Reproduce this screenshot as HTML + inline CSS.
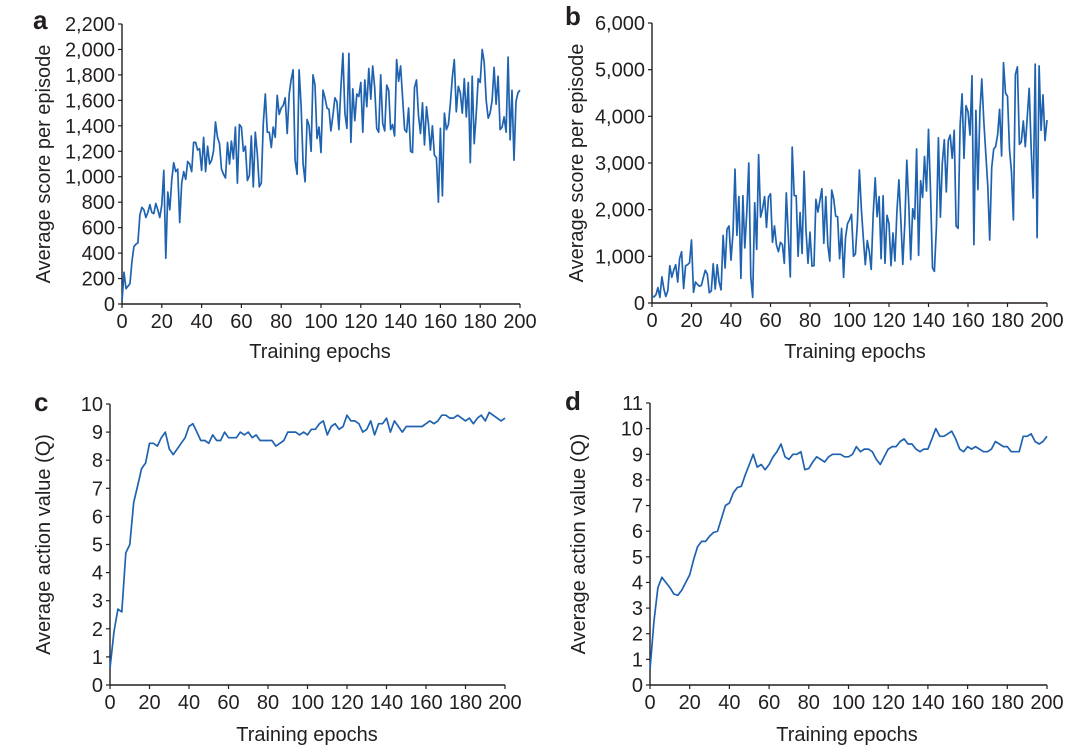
<!DOCTYPE html>
<html><head><meta charset="utf-8"><style>
html,body{margin:0;padding:0;background:#fff;}
svg{display:block;font-family:"Liberation Sans",Arial,sans-serif;}
</style></head><body>
<svg id="fig" width="1081" height="746" viewBox="0 0 1081 746"></svg>
<script>
const epochsStep1 = Array.from({length:201},(_,i)=>i);
const epochsStep2 = Array.from({length:101},(_,i)=>i*2);
const scoreA = [20,250,120,140,160,330,450,470,480,700,
760,740,680,720,780,720,710,790,740,680,
780,1050,360,880,740,980,1110,1040,1060,640,
950,1040,980,1120,1100,1040,1270,1270,1210,1220,
1050,1310,1040,1240,1100,1130,1200,1430,1310,1260,
1060,1020,990,1270,1100,1280,1140,1390,950,1410,
1390,1200,1240,970,1010,1320,920,1350,1180,920,
950,1420,1650,1350,1350,1230,1390,1310,1640,1490,
1540,1560,1620,1340,1650,1760,1840,1130,1020,1840,
1560,1100,960,1450,1400,1200,1800,1720,1300,1390,
1190,1680,1620,1540,1530,1360,1480,1620,1590,1370,
1700,1970,1500,1380,1970,1270,1690,1440,1650,1630,
1740,1350,1760,1550,1850,1610,1870,1700,1380,1350,
1800,1420,1360,1720,1680,1370,1410,1320,1920,1750,
1870,1620,1370,1350,1540,1200,1190,1700,1760,1480,
1340,1580,1250,1550,1410,1210,1400,1170,1150,800,
1380,850,1500,1370,1410,1580,1780,1920,1510,1710,
1660,1500,1770,1470,1740,1110,1790,1260,1490,1770,
1740,2000,1900,1600,1460,1500,1600,1860,1570,1790,
1370,1390,1470,1350,1940,1290,1680,1130,1590,1660,1680];
const scoreB = [150,130,180,330,120,560,300,140,260,800,
550,700,820,450,950,1100,310,800,820,860,
1350,230,450,400,360,380,550,700,620,220,
260,840,300,820,450,280,1450,750,1580,1650,
920,1500,2870,1450,2280,530,2300,1180,1950,3000,
550,120,2150,1150,3180,1840,2020,2280,1620,2270,
2340,1300,1650,1250,1100,1300,1250,850,2360,1450,
560,3340,2300,2300,1000,1940,1060,2820,1560,850,
1520,790,800,2220,1950,2200,2450,1280,2280,1250,
900,2420,2230,1860,1850,950,1600,550,1400,1700,
1780,1900,1000,1050,1720,2850,2000,1400,820,1340,
1100,720,1900,2680,1850,2280,950,2300,850,1880,
1700,800,1500,900,1950,2640,1750,830,1700,3060,
2100,930,2020,1800,3300,1020,2620,2260,3140,2400,
3720,2400,750,680,1620,3540,1840,3000,3500,2380,
3480,3600,3100,3700,1650,1600,3800,4480,3100,4230,
4100,3600,4870,1250,4130,2430,4100,4800,3900,3200,
2500,1350,2900,3300,3350,3600,4150,3150,5150,4500,
4430,3300,2800,1780,4900,5060,3400,3450,3900,3350,
4000,4600,3300,2250,5120,1400,5080,3700,4460,3480,3920];
const qC = [0.6,1.9,2.7,2.6,4.7,5.0,6.5,7.1,7.7,7.9,8.6,8.6,8.5,8.8,9.0,8.4,8.2,8.4,8.6,8.8,
9.2,9.3,9.0,8.7,8.7,8.6,8.9,8.7,8.7,9.0,8.8,8.8,8.8,9.0,8.9,9.0,8.8,8.9,8.7,8.7,
8.7,8.7,8.5,8.6,8.7,9.0,9.0,9.0,8.9,9.0,8.9,9.1,9.1,9.3,9.4,8.9,9.2,9.3,9.1,9.2,
9.6,9.4,9.4,9.3,9.0,9.1,9.4,8.9,9.3,9.3,9.5,9.0,9.4,9.2,9.0,9.2,9.2,9.2,9.2,9.2,
9.3,9.4,9.3,9.4,9.6,9.6,9.5,9.5,9.6,9.5,9.4,9.5,9.3,9.5,9.6,9.4,9.7,9.6,9.5,9.4,9.5];
const qD = [0.6,2.5,3.8,4.2,4.0,3.8,3.55,3.5,3.7,4.0,4.3,4.9,5.4,5.6,5.6,5.8,5.95,6.0,6.5,7.0,
7.1,7.5,7.7,7.75,8.2,8.6,9.0,8.5,8.6,8.4,8.6,8.9,9.1,9.4,8.9,8.8,9.0,9.0,9.1,8.4,
8.45,8.7,8.9,8.8,8.7,8.9,9.0,9.0,9.0,8.9,8.9,9.0,9.3,9.1,9.2,9.2,9.1,8.8,8.6,8.9,
9.2,9.3,9.3,9.5,9.6,9.4,9.4,9.2,9.1,9.2,9.2,9.6,10.0,9.7,9.7,9.8,9.9,9.6,9.2,9.1,
9.3,9.2,9.3,9.2,9.1,9.1,9.2,9.5,9.4,9.3,9.3,9.1,9.1,9.1,9.7,9.7,9.8,9.5,9.4,9.5,9.7];
const xTicks = [0,20,40,60,80,100,120,140,160,180,200];
const yTicksA = [0,200,400,600,800,1000,1200,1400,1600,1800,2000,2200];
const yTicksB = [0,1000,2000,3000,4000,5000,6000];
const yTicksC = [0,1,2,3,4,5,6,7,8,9,10];
const yTicksD = [0,1,2,3,4,5,6,7,8,9,10,11];

const NS="http://www.w3.org/2000/svg";
const svg=document.getElementById('fig');
function mk(tag,attrs,parent){const e=document.createElementNS(NS,tag);for(const k in attrs)e.setAttribute(k,attrs[k]);(parent||svg).appendChild(e);return e;}
function fmt(v){return v.toLocaleString('en-US');}

function panel(id,letter,lx,ly,x0,x1,y0,y1,ymax,yTicks,xs,ys,yTitle,ytx,xtx,xty){
  const g=mk('g',{});
  
  
  const sx=v=>x0+(x1-x0)*v/200;
  const sy=v=>y0+(y1-y0)*v/ymax;
  const L=mk('text',{x:lx,y:ly,'font-size':26,'font-weight':'bold',fill:'#231f20'},g);
  L.textContent=letter;
  
  
  const ax=mk('path',{d:`M${x0},${y1}V${y0}H${x1}`,stroke:'#231f20','stroke-width':1.4,fill:'none'},g);
  
  
  yTicks.forEach(t=>{
    const y=sy(t);
    mk('line',{x1:x0-4,x2:x0,y1:y,y2:y,stroke:'#231f20','stroke-width':1.2},g);
    const tx=mk('text',{x:x0-7,y:y+7,'font-size':20,'text-anchor':'end',fill:'#231f20'},g);
    tx.textContent=fmt(t);
    
    
  });
  xTicks.forEach(t=>{
    const x=sx(t);
    mk('line',{x1:x,x2:x,y1:y0,y2:y0+4,stroke:'#231f20','stroke-width':1.2},g);
    const tx=mk('text',{x:x,y:y0+24,'font-size':20,'text-anchor':'middle',fill:'#231f20'},g);
    tx.textContent=t;
    
    
  });
  const yt=mk('text',{x:0,y:0,'font-size':20,'text-anchor':'middle',fill:'#231f20',transform:`translate(${ytx},${(y0+y1)/2}) rotate(-90)`},g);
  yt.textContent=yTitle;
  
  
  const xt=mk('text',{x:xtx,y:xty,'font-size':20,'text-anchor':'middle',fill:'#231f20'},g);
  xt.textContent='Training epochs';
  
  
  const d=ys.map((v,i)=>(i?'L':'M')+sx(xs[i]).toFixed(1)+','+sy(v).toFixed(1)).join('');
  const p=mk('path',{d:d,stroke:'#1f63b0','stroke-width':1.7,fill:'none','stroke-linejoin':'round'},g);
  
  
}
panel('a','a',33,29,122,520,304,24,2200,yTicksA,epochsStep1,scoreA,'Average score per episode',50,320,358);
panel('b','b',565,25,652,1047,303,23,6000,yTicksB,epochsStep1,scoreB,'Average score per episode',583,855,358);
panel('c','c',34,411,110,505,685,404,10,yTicksC,epochsStep2,qC,'Average action value (Q)',50,307,741);
panel('d','d',565,410,650,1047,685,403,11,yTicksD,epochsStep2,qD,'Average action value (Q)',585,847,741);
</script>
</body></html>
